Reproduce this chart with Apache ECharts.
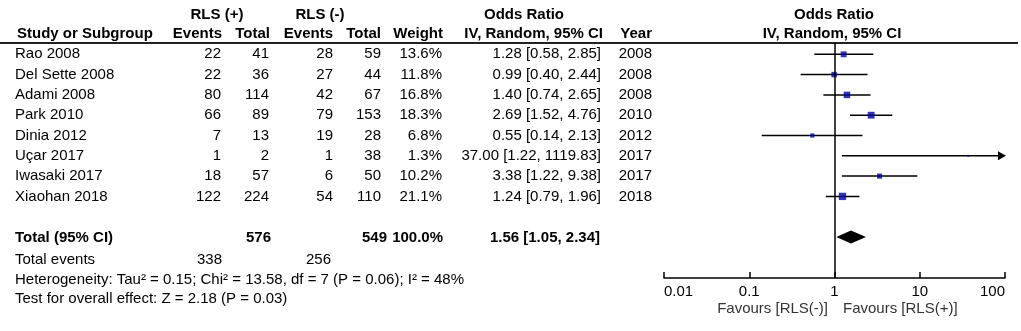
<!DOCTYPE html>
<html>
<head>
<meta charset="utf-8">
<script src="https://cdn.jsdelivr.net/npm/echarts@6/dist/echarts.min.js"></script>
<style>
  html, body { margin: 0; padding: 0; background: #fff; }
  #chart { width: 1021px; height: 331px; }
</style>
</head>
<body>
<div id="chart"></div>
<script>
// study data
const studies = ['Rao 2008', 'Del Sette 2008', 'Adami 2008', 'Park 2010', 'Dinia 2012', 'Uçar 2017', 'Iwasaki 2017', 'Xiaohan 2018'];
const eventsPos = [22, 22, 80, 66, 7, 1, 18, 122];
const totalPos = [41, 36, 114, 89, 13, 2, 57, 224];
const eventsNeg = [28, 27, 42, 79, 19, 1, 6, 54];
const totalNeg = [59, 44, 67, 153, 28, 38, 50, 110];
const weights = [13.6, 11.8, 16.8, 18.3, 6.8, 1.3, 10.2, 21.1];
const oddsRatio = [1.28, 0.99, 1.40, 2.69, 0.55, 37.00, 3.38, 1.24];
const ciLower = [0.58, 0.40, 0.74, 1.52, 0.14, 1.22, 1.22, 0.79];
const ciUpper = [2.85, 2.44, 2.65, 4.76, 2.13, 1119.83, 9.38, 1.96];
const years = [2008, 2008, 2008, 2010, 2012, 2017, 2017, 2018];

// pooled result
const pooledTotals = [576, 549];
const pooledEvents = [338, 256];
const pooledOR = [1.56, 1.05, 2.34];
const heterogeneityText = 'Heterogeneity: Tau² = 0.15; Chi² = 13.58, df = 7 (P = 0.06); I² = 48%';
const overallText = 'Test for overall effect: Z = 2.18 (P = 0.03)';
const axisTicks = [0.01, 0.1, 1, 10, 100];

const FONT = 'Arial, "Liberation Sans", sans-serif';
const fmt = v => v.toFixed(2);

// row positions (y axis units): studies 0..7, total 9
const cells = [];
function cell(x, row, text, align, bold, color) {
  cells.push({ x, row, text: String(text), align, bold: !!bold, color: color || '#000' });
}

// headers
cell(217, -1.94, 'RLS (+)', 'center', true);
cell(320, -1.94, 'RLS (-)', 'center', true);
cell(524, -1.94, 'Odds Ratio', 'center', true);
cell(834, -1.94, 'Odds Ratio', 'center', true);
cell(17, -1.03, 'Study or Subgroup', 'left', true);
cell(222, -1.03, 'Events', 'right', true);
cell(270, -1.03, 'Total', 'right', true);
cell(333, -1.03, 'Events', 'right', true);
cell(381, -1.03, 'Total', 'right', true);
cell(443, -1.03, 'Weight', 'right', true);
cell(603, -1.03, 'IV, Random, 95% CI', 'right', true);
cell(652, -1.03, 'Year', 'right', true);
cell(832, -1.03, 'IV, Random, 95% CI', 'center', true);

studies.forEach((s, i) => {
  cell(15, i, s, 'left');
  cell(221, i, eventsPos[i], 'right');
  cell(269, i, totalPos[i], 'right');
  cell(333, i, eventsNeg[i], 'right');
  cell(381, i, totalNeg[i], 'right');
  cell(442, i, weights[i].toFixed(1) + '%', 'right');
  cell(601, i, fmt(oddsRatio[i]) + ' [' + fmt(ciLower[i]) + ', ' + fmt(ciUpper[i]) + ']', 'right');
  cell(652, i, years[i], 'right');
});

// totals
const totalWeight = weights.reduce((a, b) => a + b, 0);
cell(15, 9.05, 'Total (95% CI)', 'left', true);
cell(271, 9.05, pooledTotals[0], 'right', true);
cell(387, 9.05, pooledTotals[1], 'right', true);
cell(443, 9.05, Math.round(totalWeight).toFixed(1) + '%', 'right', true);
cell(600, 9.05, fmt(pooledOR[0]) + ' [' + fmt(pooledOR[1]) + ', ' + fmt(pooledOR[2]) + ']', 'right', true);
cell(15, 10.13, 'Total events', 'left');
cell(222, 10.13, pooledEvents[0], 'right');
cell(331, 10.13, pooledEvents[1], 'right');
cell(15, 11.11, heterogeneityText, 'left');
cell(15, 12.05, overallText, 'left');
cell(828, 12.55, 'Favours [RLS(-)]', 'right', false, '#333');
cell(843, 12.55, 'Favours [RLS(+)]', 'left', false, '#333');

const X_MAX = axisTicks[axisTicks.length - 1];

const chart = echarts.init(document.getElementById('chart'), null, { renderer: 'canvas' });

chart.setOption({
  animation: false,
  backgroundColor: '#fff',
  grid: [
    { left: 0, right: 0, top: 0, bottom: 0 },
    { left: 664, right: 16, top: 43, bottom: 53 }
  ],
  xAxis: [
    { type: 'value', gridIndex: 0, min: 0, max: 1021, show: false },
    {
      type: 'log', gridIndex: 1, logBase: 10, position: 'bottom',
      min: axisTicks[0], max: X_MAX,
      axisLine: { show: true, onZero: false, lineStyle: { color: '#000', width: 1.5 } },
      axisTick: { show: true, inside: true, length: 6, lineStyle: { color: '#000', width: 1.5 } },
      splitLine: { show: false },
      axisLabel: {
        color: '#000', fontSize: 15, fontFamily: FONT, margin: 6,
        alignMinLabel: 'left', alignMaxLabel: 'right',
        formatter: v => String(+v.toPrecision(3))
      }
    }
  ],
  yAxis: [
    { type: 'value', gridIndex: 0, min: -2.675, max: 13.63, inverse: true, show: false },
    { type: 'value', gridIndex: 1, min: -0.557, max: 11.02, inverse: true, show: false }
  ],
  graphic: [
    { type: 'line', shape: { x1: 0, y1: 43, x2: 1018, y2: 43 }, style: { stroke: '#222', lineWidth: 2 } }
  ],
  series: [
    {
      // table text
      type: 'custom',
      xAxisIndex: 0, yAxisIndex: 0,
      silent: true,
      data: cells.map(c => [c.x, c.row]),
      renderItem: (params, api) => {
        const c = cells[params.dataIndex];
        const p = api.coord([c.x, c.row]);
        return {
          type: 'text',
          x: p[0], y: p[1],
          style: {
            text: c.text,
            fill: c.color,
            font: (c.bold ? 'bold ' : '') + '15px ' + FONT,
            align: c.align, textAlign: c.align,
            verticalAlign: 'middle', textVerticalAlign: 'middle'
          }
        };
      }
    },
    {
      // confidence intervals
      type: 'custom',
      xAxisIndex: 1, yAxisIndex: 1,
      silent: true,
      z: 3,
      data: studies.map((s, i) => [ciLower[i], ciUpper[i], i]),
      renderItem: (params, api) => {
        const lo = api.value(0), hi = api.value(1), row = api.value(2);
        const a = api.coord([lo, row]);
        const b = api.coord([Math.min(hi, X_MAX), row]);
        const children = [{
          type: 'line',
          shape: { x1: a[0], y1: a[1], x2: b[0] - (hi > X_MAX ? 6 : 0), y2: b[1] },
          style: { stroke: '#000', lineWidth: 1.5 }
        }];
        if (hi > X_MAX) {
          children.push({
            type: 'polygon',
            shape: { points: [[b[0] + 1, b[1]], [b[0] - 7, b[1] - 4.5], [b[0] - 7, b[1] + 4.5]] },
            style: { fill: '#000' }
          });
        }
        return { type: 'group', children };
      }
    },
    {
      // study point estimates
      type: 'scatter',
      xAxisIndex: 1, yAxisIndex: 1,
      silent: true,
      z: 4,
      symbol: 'rect',
      symbolSize: (v, params) => 1.6 * Math.sqrt(weights[params.dataIndex]),
      itemStyle: { color: '#0000a0' },
      data: oddsRatio.map((v, i) => [v, i]),
      markLine: {
        silent: true,
        symbol: 'none',
        label: { show: false },
        lineStyle: { color: '#000', width: 1.5, type: 'solid' },
        data: [{ xAxis: 1 }]
      }
    },
    {
      // pooled diamond
      type: 'custom',
      xAxisIndex: 1, yAxisIndex: 1,
      silent: true,
      z: 4,
      data: [[pooledOR[0], pooledOR[1], pooledOR[2], 9]],
      renderItem: (params, api) => {
        const row = api.value(3);
        const c = api.coord([api.value(0), row]);
        const l = api.coord([api.value(1), row]);
        const r = api.coord([api.value(2), row]);
        return {
          type: 'polygon',
          shape: { points: [[l[0], l[1]], [c[0], c[1] - 6.5], [r[0], r[1]], [c[0], c[1] + 6.5]] },
          style: { fill: '#000' }
        };
      }
    }
  ]
});
</script>
</body>
</html>
